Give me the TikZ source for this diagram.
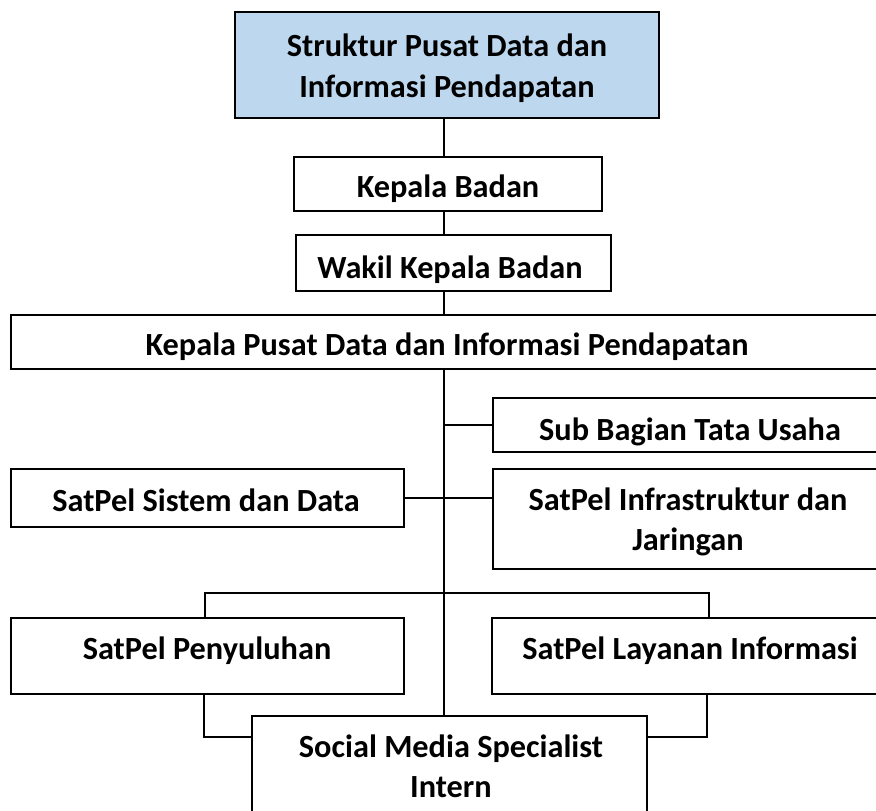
\documentclass[tikz,border=0pt]{standalone}
\usepackage{fontspec}
\setmainfont{Carlito}
\definecolor{titleblue}{RGB}{189,215,238}
\begin{document}
\begin{tikzpicture}[x=1pt,y=-1pt,
  box/.style={draw=black, line width=1.8pt, fill=white, inner sep=0pt, outer sep=0pt},
  lbl/.style={anchor=base, inner sep=0pt, font=\fontsize{32.3}{40}\selectfont\bfseries},
  conn/.style={draw=black, line width=1.8pt}]
\fill[white] (0,0) rectangle (876,811);
\clip (0,0) rectangle (876,811);
% boxes
\node[box, fill=titleblue, minimum width=424pt, minimum height=106pt] (title) at (447,65) {};
\node[box, minimum width=308pt, minimum height=54pt] (kb) at (448,184) {};
\node[box, minimum width=315pt, minimum height=56pt] (wk) at (453.5,263) {};
\node[box, minimum width=874pt, minimum height=54pt] (kp) at (448,342) {};
\node[box, minimum width=394pt, minimum height=54pt] (sb) at (690,425) {};
\node[box, minimum width=393pt, minimum height=58pt] (ss) at (207.5,498) {};
\node[box, minimum width=394pt, minimum height=100pt] (inf) at (690,519) {};
\node[box, minimum width=393pt, minimum height=76pt] (py) at (207.5,656) {};
\node[box, minimum width=395pt, minimum height=76pt] (ly) at (689.5,656) {};
\node[box, minimum width=395pt, minimum height=114pt] (sm) at (449.5,773) {};
% helper coordinates
\coordinate (trunk) at (444,0);
\coordinate (bl) at (205,593);
\coordinate (br) at (709,593);
\coordinate (pl) at (204,737);
\coordinate (pr) at (707,737);
% connectors
\draw[conn] (title.south -| trunk) -- (kb.north -| trunk);
\draw[conn] (kb.south -| trunk) -- (wk.north -| trunk);
\draw[conn] (wk.south -| trunk) -- (kp.north -| trunk);
\draw[conn] (kp.south -| trunk) -- (sm.north -| trunk);
\draw[conn] (sb.west -| trunk) -- (sb.west);
\draw[conn] (ss.east) -- (ss.east -| inf.west);
\draw[conn] (bl |- py.north) -- (bl) -- (br) -- (br |- ly.north);
\draw[conn] (pl |- py.south) -- (pl) -- (sm.west |- pl);
\draw[conn] (pr |- ly.south) -- (pr) -- (sm.east |- pr);
% labels
\node[lbl] (t1) at (447,56) {Struktur Pusat Data dan};
\node[lbl] (t2) at (447,97) {Informasi Pendapatan};
\node[lbl] (kbt) at (448,197) {Kepala Badan};
\node[lbl] (wkt) at (450,278) {Wakil Kepala Badan};
\node[lbl] (kpt) at (447,355) {Kepala Pusat Data dan Informasi Pendapatan};
\node[lbl] (sbt) at (690,440) {Sub Bagian Tata Usaha};
\node[lbl] (sst) at (206,511) {SatPel Sistem dan Data};
\node[lbl] (inf1) at (688,510) {SatPel Infrastruktur dan};
\node[lbl] (inf2) at (688,550) {Jaringan};
\node[lbl] (pyt) at (207,659) {SatPel Penyuluhan};
\node[lbl] (lyt) at (690,659) {SatPel Layanan Informasi};
\node[lbl] (sm1) at (451,757) {Social Media Specialist};
\node[lbl] (sm2) at (451,797) {Intern};
\end{tikzpicture}
\end{document}
